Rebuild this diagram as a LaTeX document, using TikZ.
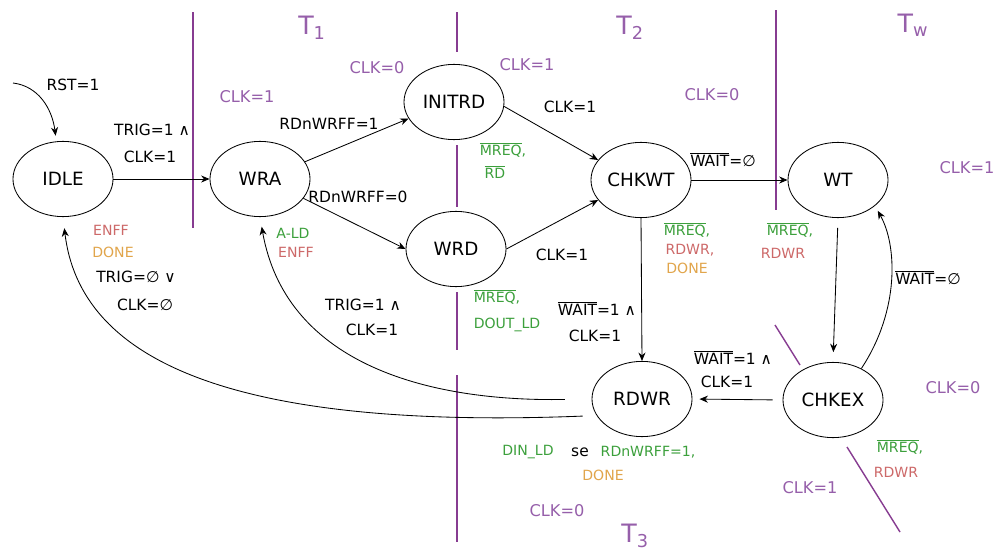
\documentclass[tikz,border=0pt]{standalone}
\usepackage{fontspec}
\setmainfont{DejaVu Sans}
\usetikzlibrary{arrows.meta,shapes.geometric}
\definecolor{lpurple}{RGB}{135,60,145}
\definecolor{tpurple}{RGB}{150,95,170}
\definecolor{lgreen}{RGB}{60,160,60}
\definecolor{lred}{RGB}{205,105,105}
\definecolor{lorange}{RGB}{225,165,75}
\newcommand{\ovl}[1]{$\overline{\mbox{#1}}$}
\begin{document}
\begin{tikzpicture}[x=0.025cm,y=-0.025cm,
 state/.style={ellipse,draw,line width=0.6pt,minimum width=2.5cm,minimum height=1.88cm,inner sep=0pt,font=\fontsize{13}{15}\selectfont},
 arr/.style={-{Stealth[length=6pt,width=5pt]},line width=0.6pt},
 lab/.style={font=\fontsize{11}{13}\selectfont,inner sep=0pt},
 clk/.style={font=\fontsize{11.5}{13}\selectfont,inner sep=0pt,text=tpurple},
 sep/.style={draw=lpurple,line width=1pt},
 tl/.style={text=tpurple,font=\fontsize{18}{20}\selectfont,inner sep=0pt},
 grn/.style={text=lgreen,font=\fontsize{10}{12}\selectfont,inner sep=0pt},
 red/.style={text=lred,font=\fontsize{10}{12}\selectfont,inner sep=0pt},
 org/.style={text=lorange,font=\fontsize{10}{12}\selectfont,inner sep=0pt}
]
\fill[white] (0,0) rectangle (1005,552);
\useasboundingbox (0,0) rectangle (1005,552);

% separators
\draw[sep] (193,12) -- (193,228);
\draw[sep] (457,12) -- (457,52);
\draw[sep] (457,145) -- (457,207);
\draw[sep] (457,292) -- (457,350);
\draw[sep] (457,375) -- (457,542);
\draw[sep] (776,10) -- (776,210);
\draw[sep] (775,325) -- (800,365);
\draw[sep] (847,447) -- (900,532);

% states
\node[state] (IDLE) at (63,179) {IDLE};
\node[state] (WRA) at (260,179) {WRA};
\node[state] (INITRD) at (454,102) {INITRD};
\node[state] (WRD) at (456,249) {WRD};
\node[state] (CHKWT) at (641,180) {CHKWT};
\node[state] (WT) at (838,180) {WT};
\node[state] (RDWR) at (642,399) {RDWR};
\node[state] (CHKEX) at (833,400) {CHKEX};

% connectors
\coordinate (rst0) at (13,83);
\draw[arr,shorten >=4pt] (rst0) .. controls (38,86) and (52,108) .. (IDLE.100);
\draw[arr] (IDLE.east) -- (WRA.west);
\draw[arr] (WRA.21) -- (INITRD.200);
\draw[arr] (WRA.-24) -- (WRD.west);
\draw[arr] (INITRD.-5) -- (CHKWT.155);
\draw[arr] (WRD.east) -- (CHKWT.205);
\draw[arr] (CHKWT.east) -- (WT.west);
\draw[arr] (CHKWT.south) -- (RDWR.north);
\draw[arr,shorten <=7pt,shorten >=7pt] (WT.south) -- (CHKEX.north);
\draw[arr,shorten <=7pt,shorten >=5pt] (CHKEX.west) -- (RDWR.east);
\draw[arr,shorten >=4pt] (CHKEX.48) .. controls (900,310) and (897,245) .. (WT.-35);
\draw[arr,shorten <=10pt,shorten >=8pt] (RDWR.200) .. controls (230,430) and (80,360) .. (IDLE.south);
\draw[arr,shorten <=19pt,shorten >=7pt] (RDWR.west) .. controls (420,402) and (285,360) .. (WRA.south);

% period titles
\node[tl] (t1) at (312,28) {T\textsubscript{1}};
\node[tl] (t2) at (630,28) {T\textsubscript{2}};
\node[tl] (tw) at (913,25) {T\textsubscript{w}};
\node[tl] (t3) at (635,536) {T\textsubscript{3}};

% clock labels
\node[clk] (c1) at (247,97) {CLK=1};
\node[clk] (c2) at (377,68) {CLK=0};
\node[clk] (c3) at (527,65) {CLK=1};
\node[clk] (c4) at (712,95) {CLK=0};
\node[clk] (c5) at (967,168) {CLK=1};
\node[clk] (c6) at (953,388) {CLK=0};
\node[clk] (c7) at (810,488) {CLK=1};
\node[clk] (c8) at (557,511) {CLK=0};

% transition labels
\node[lab] (rst) at (73,85) {RST=1};
\node[lab] (a1) at (152,130) {TRIG=1 ∧};
\node[lab] (a2) at (150,157) {CLK=1};
\node[lab] (b1) at (329,124) {RDnWRFF=1};
\node[lab] (b2) at (358,197) {RDnWRFF=0};
\node[lab] (b3) at (570,107) {CLK=1};
\node[lab] (b4) at (562,255) {CLK=1};
\node[lab] (d1) at (136,277) {TRIG=∅ ∨};
\node[lab] (d2) at (145,305) {CLK=∅};
\node[lab] (e1) at (363,305) {TRIG=1 ∧};
\node[lab] (e2) at (372,330) {CLK=1};
\node[lab] (f1) at (723,160) {\ovl{WAIT}=∅};
\node[lab] (g1) at (597,308) {\ovl{WAIT}=1 ∧};
\node[lab] (g2) at (595,336) {CLK=1};
\node[lab] (h1) at (733,357) {\ovl{WAIT}=1 ∧};
\node[lab] (h2) at (727,382) {CLK=1};
\node[lab] (k1) at (928,278) {\ovl{WAIT}=∅};

% outputs
\node[red] (o1) at (111,230) {ENFF};
\node[org] (o2) at (113,252) {DONE};
\node[grn] (o3) at (293,233) {A-LD};
\node[red] (o4) at (296,252) {ENFF};
\node[grn] (o5) at (503,150) {\ovl{MREQ},};
\node[grn] (o6) at (495,172) {\ovl{RD}};
\node[grn] (o7) at (497,297) {\ovl{MREQ},};
\node[grn] (o8) at (507,325) {DOUT\_LD};
\node[grn] (o9) at (687,230) {\ovl{MREQ},};
\node[red] (o10) at (690,250) {RDWR,};
\node[org] (o11) at (687,268) {DONE};
\node[grn] (o12) at (790,230) {\ovl{MREQ},};
\node[red] (o13) at (783,253) {RDWR};
\node[grn] (o14) at (528,452) {DIN\_LD};
\node[lab] (o15) at (580,452) {se};
\node[grn] (o16) at (648,452) {RDnWRFF=1,};
\node[org] (o17) at (603,475) {DONE};
\node[grn] (o18) at (900,447) {\ovl{MREQ},};
\node[red] (o19) at (896,472) {RDWR};
\end{tikzpicture}
\end{document}
